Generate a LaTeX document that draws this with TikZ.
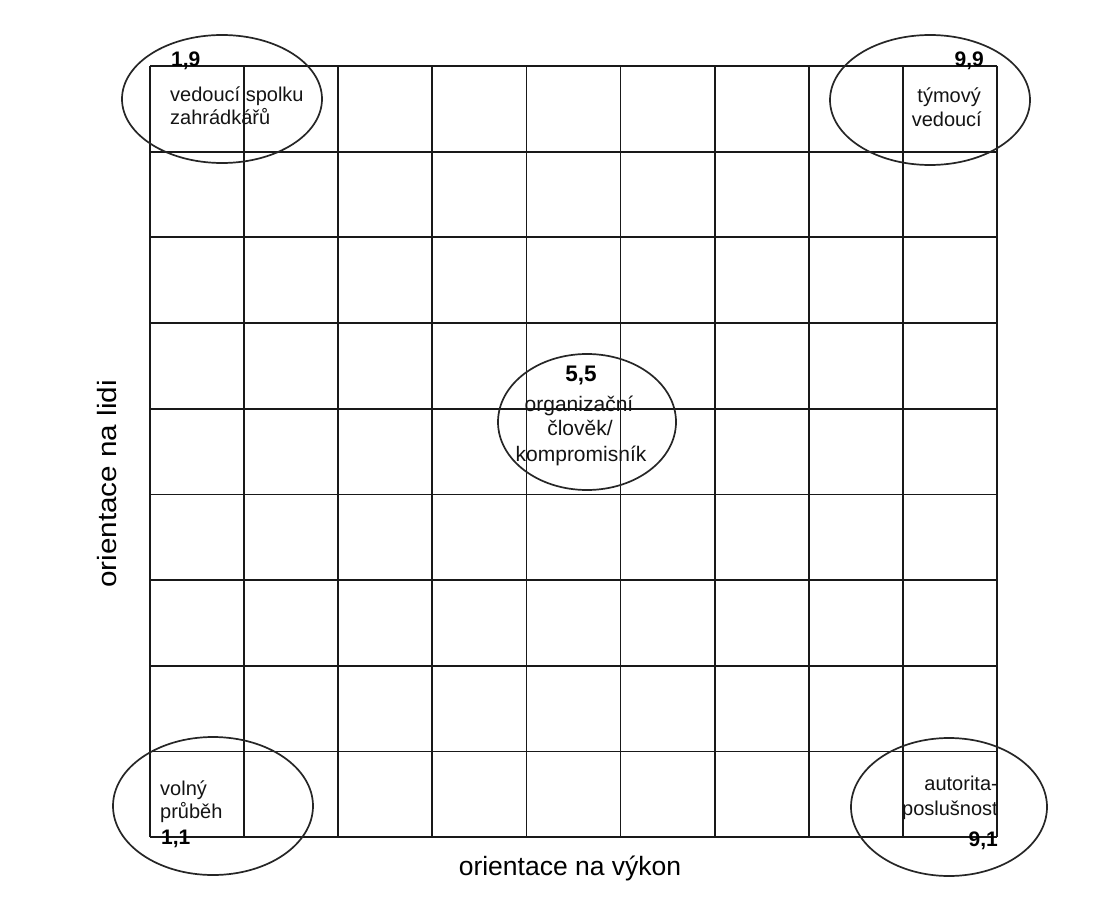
\documentclass[tikz,border=0pt]{standalone}
\usepackage{fontspec}
\setmainfont{Liberation Sans}
\newfontfamily\stretchfont[FakeStretch=1.12]{Liberation Sans}
\usetikzlibrary{shapes.geometric}
\tikzset{
  gridline/.style={line width=1.7pt, draw=black!90},
  oval/.style={ellipse, draw=black!85, line width=1.7pt, inner sep=0pt, outer sep=0pt},
  lbl/.style={inner sep=0pt, font=\fontsize{20}{23}\selectfont, text=black!92},
  num/.style={inner sep=0pt, font=\fontsize{21}{23}\selectfont\bfseries, text=black},
  clbl/.style={inner sep=0pt, font=\fontsize{21}{25}\selectfont, text=black!92},
  cnum/.style={inner sep=0pt, font=\fontsize{22.5}{25}\selectfont\bfseries, text=black},
  axis/.style={inner sep=0pt, font=\fontsize{26.5}{30}\selectfont, text=black},
}
\begin{document}
\begin{tikzpicture}[x=1pt, y=-1pt]
\useasboundingbox (0,0) rectangle (1103,915);
\fill[white] (0,0) rectangle (1103,915);
% grid
\foreach \i in {0,...,9} {
  \draw[gridline] ({150+94.11*\i},66) -- ({150+94.11*\i},837);
  \draw[gridline] (150,{66+85.67*\i}) -- (997,{66+85.67*\i});
}
% ellipses
\node[oval, minimum width=200pt, minimum height=128pt] (e19) at (222,99) {};
\node[oval, minimum width=200pt, minimum height=130pt] (e99) at (930,100) {};
\node[oval, minimum width=178pt, minimum height=136pt] (e55) at (587,422) {};
\node[oval, minimum width=200pt, minimum height=138pt] (e11) at (213,806) {};
\node[oval, minimum width=196pt, minimum height=138pt] (e91) at (949,807) {};
% top left
\node[num, anchor=base west] (n19) at (171,67) {1,9};
\node[lbl, anchor=base west] (t19a) at (170,102) {vedoucí spolku};
\node[lbl, anchor=base west] (t19b) at (170,125) {zahrádkářů};
% top right
\node[num, anchor=base east] (n99) at (984,67) {9,9};
\node[lbl, anchor=base east] (t99a) at (981,103) {týmový};
\node[lbl, anchor=base east] (t99b) at (982,127) {vedoucí};
% centre
\node[cnum, anchor=base] (n55) at (581,381) {5,5};
\node[clbl, anchor=base] (t55a) at (579,411) {organizační};
\node[clbl, anchor=base] (t55b) at (580,435) {člověk/};
\node[clbl, anchor=base] (t55c) at (581,461) {kompromisník};
% bottom left
\node[lbl, anchor=base west] (t11a) at (160,795) {volný};
\node[lbl, anchor=base west] (t11b) at (160,818) {průběh};
\node[num, anchor=base west] (n11) at (161,844) {1,1};
% bottom right
\node[lbl, anchor=base east] (t91a) at (998,790) {autorita-};
\node[lbl, anchor=base east] (t91b) at (998,815) {poslušnost};
\node[num, anchor=base east] (n91) at (998,846) {9,1};
% axes
\node[axis, anchor=base] (xax) at (570,875) {orientace na výkon};
\node[axis, anchor=base, rotate=90, font=\fontsize{26.5}{30}\stretchfont] (yax) at (116,484) {orientace na lidi};
\end{tikzpicture}
\end{document}
